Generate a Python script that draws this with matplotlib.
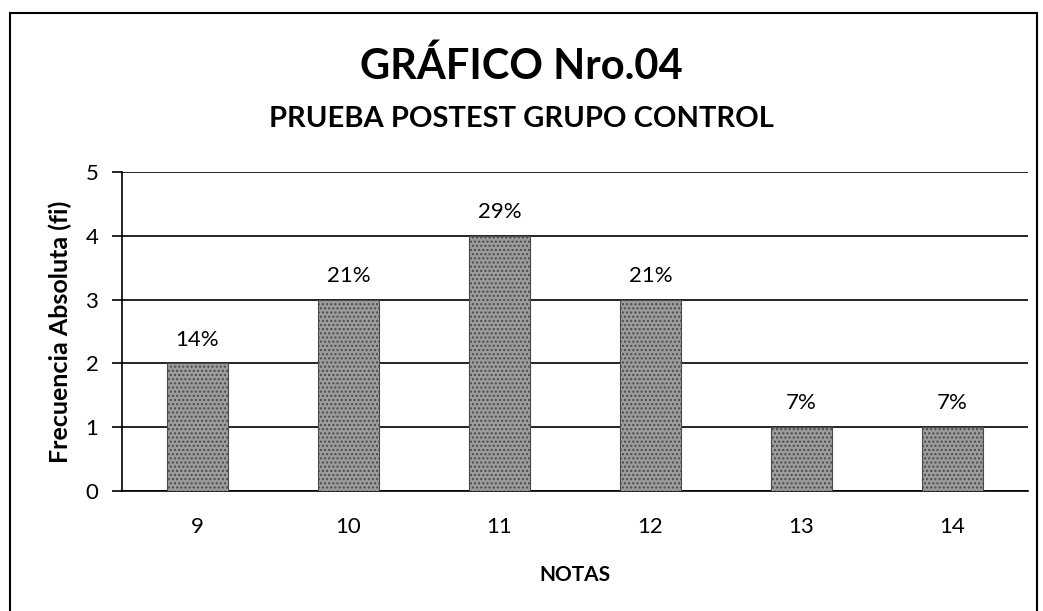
import matplotlib
matplotlib.use("Agg")
import matplotlib.pyplot as plt
from matplotlib.patches import Rectangle

# data
notas = ["9", "10", "11", "12", "13", "14"]
frecuencia = [2, 3, 4, 3, 1, 1]
porcentajes = ["14%", "21%", "29%", "21%", "7%", "7%"]

plt.rcParams['font.family'] = ['Lato', 'DejaVu Sans']
plt.rcParams['hatch.color'] = "#3c3c3c"

W, H = 1043, 611
fig = plt.figure(figsize=(W / 100, H / 100), dpi=100)
ax = fig.add_axes([122 / W, 1 - 491 / H, (1028 - 122) / W, (491 - 172) / H])

x = range(len(notas))
ax.bar(x, frecuencia, width=0.4, color="#9c9c9c", edgecolor="#4a4a4a",
       linewidth=0.8, hatch="....", zorder=3)

for i, v in enumerate(frecuencia):
    ax.annotate(porcentajes[i], (i, v), xytext=(0, 10), textcoords="offset points",
                ha="center", va="bottom", fontsize=16)

ax.set_xlim(-0.5, len(notas) - 0.5)
ax.set_ylim(0, 5)
ax.set_yticks(range(6))
ax.set_xticks(list(x))
ax.set_xticklabels(notas, fontsize=16)
ax.tick_params(axis="x", length=0, pad=19)
ax.tick_params(axis="y", length=7, width=1.2, labelsize=16, pad=10)
ax.grid(axis="y", color="black", linewidth=1.2, zorder=0)
for s in ["top", "right"]:
    ax.spines[s].set_visible(False)
ax.spines["left"].set_linewidth(1.2)
ax.spines["bottom"].set_linewidth(1.2)

ax.set_ylabel("Frecuencia Absoluta (fi)", fontsize=18, fontweight="bold", labelpad=10)
ax.set_xlabel("NOTAS", fontsize=15, fontweight="bold", labelpad=20)

fig.text(0.5, 1 - 66 / H, "GRÁFICO Nro.04", ha="center", va="center",
         fontsize=30, fontweight="bold")
fig.text(0.5, 1 - 119 / H, "PRUEBA POSTEST GRUPO CONTROL", ha="center", va="center",
         fontsize=21, fontweight="bold")

# outer frame
fig.patches.append(Rectangle((10 / W, -0.01), (1037 - 10) / W, 1 - 13 / H + 0.01,
                             transform=fig.transFigure, fill=False,
                             edgecolor="black", linewidth=1.5))

fig.savefig("out.png", dpi=100, facecolor="white")
